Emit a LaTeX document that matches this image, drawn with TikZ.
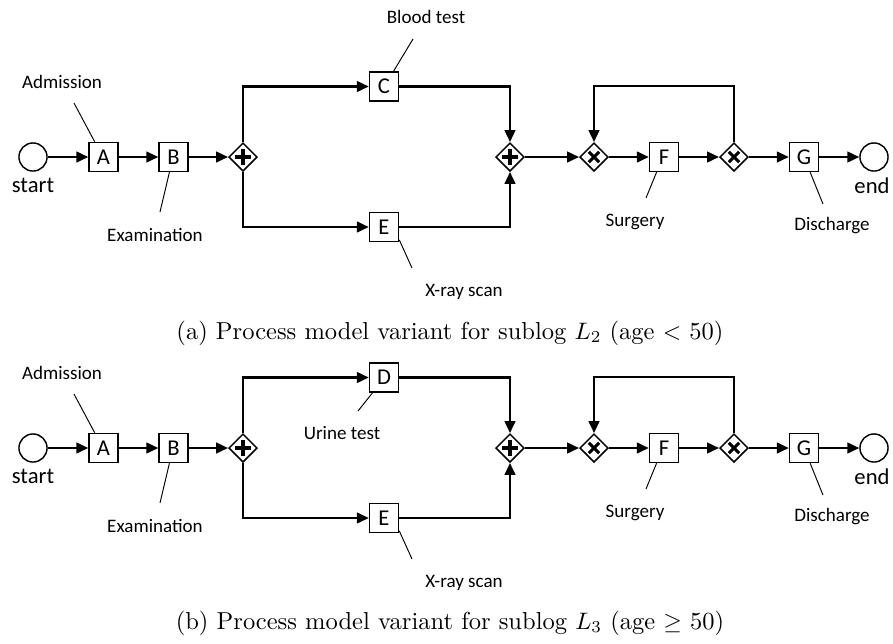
\documentclass[tikz,border=0pt]{standalone}
\usepackage{fontspec}
\newfontfamily\calibrifont{Carlito}
\usetikzlibrary{arrows.meta,shapes.geometric}

\tikzset{
  taskbox/.style={draw, line width=0.6pt, minimum size=12.2pt, inner sep=0pt,
    font=\calibrifont\fontsize{9.5}{11}\selectfont},
  eventcircle/.style={draw, circle, line width=0.6pt, minimum size=11.8pt, inner sep=0pt},
  gate/.style={draw, diamond, line width=0.6pt, minimum size=12pt, inner sep=0pt},
  plusgate/.style={gate, path picture={
    \draw[line width=1.3pt] (path picture bounding box.center) +(-3.2pt,0) -- +(3.2pt,0)
      +(0,-3.2pt) -- +(0,3.2pt);}},
  xorgate/.style={gate, path picture={
    \draw[line width=1.3pt] (path picture bounding box.center) +(-2.2pt,-2.2pt) -- +(2.2pt,2.2pt)
      +(-2.2pt,2.2pt) -- +(2.2pt,-2.2pt);}},
  flowline/.style={line width=0.9pt, -{Triangle[length=5pt,width=4.5pt]}},
  noteline/.style={line width=0.4pt},
  notetext/.style={font=\calibrifont\fontsize{8}{10}\selectfont, inner sep=0pt},
  eventtext/.style={font=\calibrifont\fontsize{9.5}{11}\selectfont, inner sep=0pt},
  captiontext/.style={font=\fontsize{10.3}{12}\selectfont},
}

\begin{document}
\begin{tikzpicture}[x=0.42pt, y=-0.42pt]
    % Fix the page to the reference size (coordinates in pixels, y down)
    \useasboundingbox (0,0) rectangle (893,644);

    % Shared part of both variants
    \foreach \p/\dy/\t in {a/0/C, b/291/D} {
    \begin{scope}[shift={(0,\dy)}]
        % Events and tasks on the main line
        \node[eventcircle] (\p-start) at (33,157) {};
        \node[eventtext] (\p-starttext) at (33,185) {start};
        \node[taskbox] (\p-A) at (103.5,157) {A};
        \node[taskbox] (\p-B) at (173.5,157) {B};
        \node[plusgate] (\p-split) at (243,157) {};
        \node[taskbox] (\p-T) at (384,86.5) {\t};
        \node[taskbox] (\p-E) at (384,227) {E};
        \node[plusgate] (\p-join) at (510,157) {};
        \node[xorgate] (\p-merge) at (594,157) {};
        \node[taskbox] (\p-F) at (664,157) {F};
        \node[xorgate] (\p-choice) at (734,157) {};
        \node[taskbox] (\p-G) at (804,157) {G};
        \node[eventcircle] (\p-end) at (874,157) {};
        \node[eventtext] (\p-endtext) at (872,186) {end};
        \coordinate (\p-loop) at (734,86);

        % Sequence flows
        \draw[flowline] (\p-start) -- (\p-A);
        \draw[flowline] (\p-A) -- (\p-B);
        \draw[flowline] (\p-B) -- (\p-split);
        \draw[flowline] (\p-split.north) |- (\p-T.west);
        \draw[flowline] (\p-split.south) |- (\p-E.west);
        \draw[flowline] (\p-T.east) -| (\p-join.north);
        \draw[flowline] (\p-E.east) -| (\p-join.south);
        \draw[flowline] (\p-join) -- (\p-merge);
        \draw[flowline] (\p-merge) -- (\p-F);
        \draw[flowline] (\p-F) -- (\p-choice);
        \draw[flowline] (\p-choice) -- (\p-G);
        \draw[flowline] (\p-G) -- (\p-end);
        \draw[flowline] (\p-choice.north) -- (\p-loop) -| (\p-merge.north);

        % Activity names
        \node[notetext] (\p-admission) at (62,82) {Admission};
        \coordinate (\p-admissionpin) at (74,103);
        \draw[noteline] (\p-admissionpin) -- (\p-A.120);
        \node[notetext] (\p-examination) at (155,235) {Examination};
        \coordinate (\p-examinationpin) at (160,212);
        \draw[noteline] (\p-B.-105) -- (\p-examinationpin);
        \node[notetext] (\p-xray) at (464,292) {X-ray scan};
        \coordinate (\p-xraypin) at (412,268);
        \draw[noteline] (\p-E.-40) -- (\p-xraypin);
        \node[notetext] (\p-surgery) at (635,222) {Surgery};
        \coordinate (\p-surgerypin) at (646,198);
        \draw[noteline] (\p-F.-116) -- (\p-surgerypin);
        \node[notetext] (\p-discharge) at (832,226) {Discharge};
        \coordinate (\p-dischargepin) at (823,204);
        \draw[noteline] (\p-G.-68) -- (\p-dischargepin);
    \end{scope}
    }

    % Labels that differ between the variants
    \node[notetext] (bloodtest) at (426,17) {Blood test};
    \coordinate (bloodtestpin) at (413,39);
    \draw[noteline] (bloodtestpin) -- (a-T.58);
    \node[notetext] (urinetest) at (342,433) {Urine test};
    \coordinate (urinetestpin) at (358,411);
    \draw[noteline] (b-T.-127) -- (urinetestpin);

    % Captions
    \node[captiontext] (captiona) at (450,333) {(a) Process model variant for sublog $L_2$ (age $<$ 50)};
    \node[captiontext] (captionb) at (450,623) {(b) Process model variant for sublog $L_3$ (age $\geq$ 50)};
\end{tikzpicture}
\end{document}
